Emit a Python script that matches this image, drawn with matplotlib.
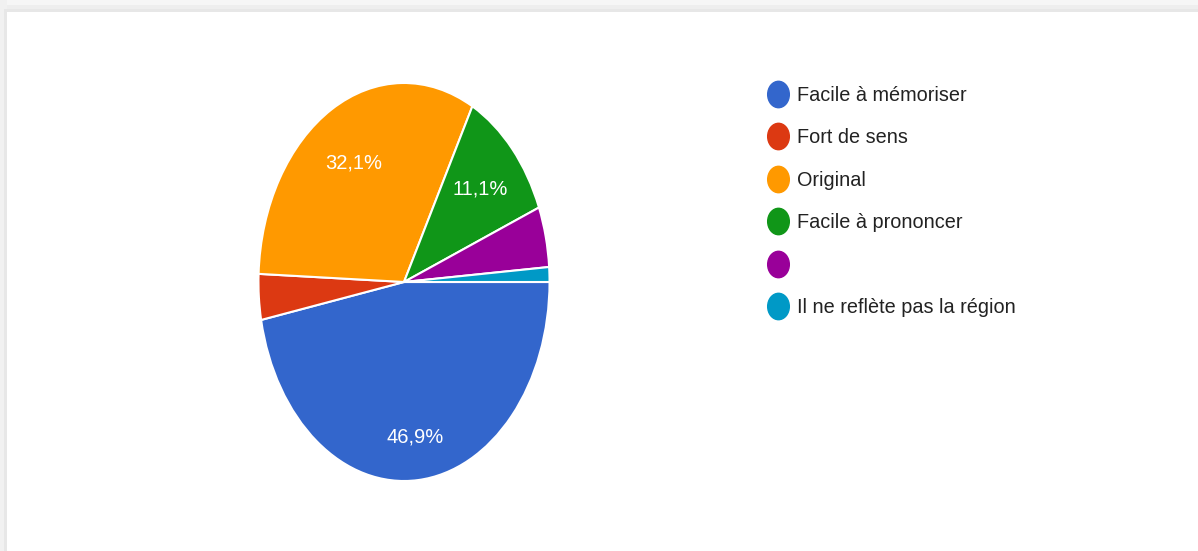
import numpy as np
import matplotlib
matplotlib.use('Agg')
import matplotlib.pyplot as plt
from matplotlib.patches import Rectangle
from matplotlib.lines import Line2D
from matplotlib.path import Path
from matplotlib.transforms import Affine2D

plt.rcParams['font.family'] = ['Liberation Sans', 'DejaVu Sans']

labels = ['Facile à mémoriser', 'Fort de sens', 'Original', 'Facile à prononcer', '',
          'Il ne reflète pas la région']
shares = [46.9, 3.7, 32.1, 11.1, 4.9, 1.2]
colors = ['#3366CC', '#DC3912', '#FF9900', '#109618', '#990099', '#0099C6']
# radial position of each percentage label (fraction of radius)
label_r = [0.78, 0.7, 0.69, 0.70, 0.7, 0.7]

W, H = 1198, 551
fig = plt.figure(figsize=(W / 100, H / 100), dpi=100)
fig.patch.set_facecolor('white')

# card border (light gray strips top and left)
for (x, y, w, h, c) in [(0, 0, W, 12, '#f6f6f6'), (0, 5, W, 7, '#eeeeee'),
                        (7, 9, W, 3, '#e7e7e7'), (0, 0, 7, H, '#f1f1f1'),
                        (4, 9, 3, H, '#e7e7e7')]:
    fig.patches.append(Rectangle((x / W, 1 - (y + h) / H), w / W, h / H,
                                 transform=fig.transFigure, color=c, lw=0, zorder=-5))

# pie drawn in an elliptic box
cx, cy, rx, ry = 404, 282, 147, 201
ax = fig.add_axes([(cx - rx) / W, (H - cy - ry) / H, 2 * rx / W, 2 * ry / H])


def fmt(p):
    return ('%.1f%%' % p).replace('.', ',') if p > 10 else ''


wedges, _, autotexts = ax.pie(shares, colors=colors, startangle=0, counterclock=False,
                              autopct=fmt, pctdistance=0.72,
                              wedgeprops=dict(edgecolor='white', linewidth=1.5),
                              textprops=dict(color='white', fontsize=14.5))
for w, t, r in zip(wedges, autotexts, label_r):
    mid = np.deg2rad((w.theta1 + w.theta2) / 2)
    t.set_position((r * np.cos(mid), r * np.sin(mid)))
ax.set_aspect('auto')
ax.set_xlim(-1.01, 1.01)
ax.set_ylim(-1.01, 1.01)
ax.axis('off')

# elliptic legend markers
dot = Path.unit_circle().transformed(Affine2D().scale(0.82, 1.0))
handles = [Line2D([], [], ls='none', marker=dot, markersize=19, markerfacecolor=c,
                  markeredgecolor=c) for c in colors]
fig.legend(handles, labels, loc='upper left', bbox_to_anchor=(769 / W, 1 - 86 / H),
           frameon=False, fontsize=14.3, handlelength=0.9, handletextpad=0.5,
           labelspacing=1.18, borderpad=0, borderaxespad=0, labelcolor='#222222')

fig.savefig('out.png', dpi=100)
